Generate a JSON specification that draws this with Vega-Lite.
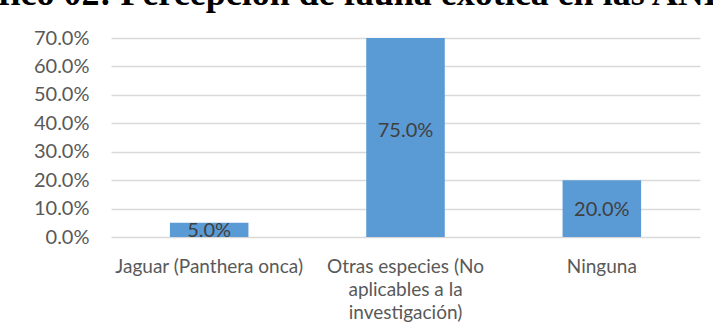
{
  "$schema": "https://vega.github.io/schema/vega-lite/v6.json",
  "width": 589,
  "height": 199,
  "autosize": {"type": "none"},
  "padding": {"left": 111, "top": 38, "right": 13, "bottom": 97},
  "background": "white",
  "title": {
    "text": "Gráfico 02: Percepción de fauna exótica en las ANP",
    "font": "Liberation Serif",
    "fontSize": 36,
    "fontWeight": "bold",
    "color": "black",
    "anchor": "start",
    "baseline": "alphabetic",
    "offset": -13,
    "dx": -97
  },
  "config": {
    "view": {"stroke": null},
    "font": "Lato",
    "axisY": {
      "values": [0, 0.1, 0.2, 0.3, 0.4, 0.5, 0.6, 0.7],
      "format": ".1%",
      "labelFont": "Lato",
      "labelFontSize": 20,
      "labelColor": "#595959",
      "labelPadding": 22,
      "labelOverlap": false,
      "labelFlush": false,
      "domain": false,
      "ticks": false,
      "gridColor": "#d9d9d9",
      "gridWidth": 1.3,
      "title": null
    }
  },
  "data": {
    "values": [
      {"categoria": "Jaguar (Panthera onca)", "valor": 0.05},
      {"categoria": "Otras especies (No aplicables a la investigación)", "valor": 0.75},
      {"categoria": "Ninguna", "valor": 0.20}
    ]
  },
  "transform": [
    {"calculate": "datum.valor / 2", "as": "mid"}
  ],
  "encoding": {
    "x": {
      "field": "categoria",
      "type": "nominal",
      "sort": null,
      "title": null,
      "scale": {"paddingInner": 0.6, "paddingOuter": 0.3},
      "axis": {
        "labelAngle": 0,
        "labelFont": "Lato",
        "labelFontSize": 19,
        "labelColor": "#595959",
        "labelPadding": 20,
        "labelLineHeight": 23,
        "labelBaseline": "top",
        "labelOverlap": false,
        "labelLimit": 0,
        "domain": false,
        "ticks": false,
        "labelExpr": "datum.label == 'Otras especies (No aplicables a la investigación)' ? ['Otras especies (No', 'aplicables a la', 'investigación)'] : datum.label"
      }
    }
  },
  "layer": [
    {
      "mark": {"type": "bar", "color": "#5b9bd5", "clip": true},
      "encoding": {
        "y": {
          "field": "valor",
          "type": "quantitative",
          "title": null,
          "scale": {"domain": [0, 0.7], "nice": false},
          "axis": {"values": [0, 0.1, 0.2, 0.3, 0.4, 0.5, 0.6, 0.7], "format": ".1%"}
        }
      }
    },
    {
      "mark": {"type": "text", "fontSize": 20, "color": "#404040", "baseline": "middle", "font": "Lato", "dy": 1},
      "encoding": {
        "y": {
          "field": "mid",
          "type": "quantitative",
          "title": null,
          "axis": {"values": [0, 0.1, 0.2, 0.3, 0.4, 0.5, 0.6, 0.7], "format": ".1%"}
        },
        "text": {"field": "valor", "type": "quantitative", "format": ".1%"}
      }
    }
  ]
}
